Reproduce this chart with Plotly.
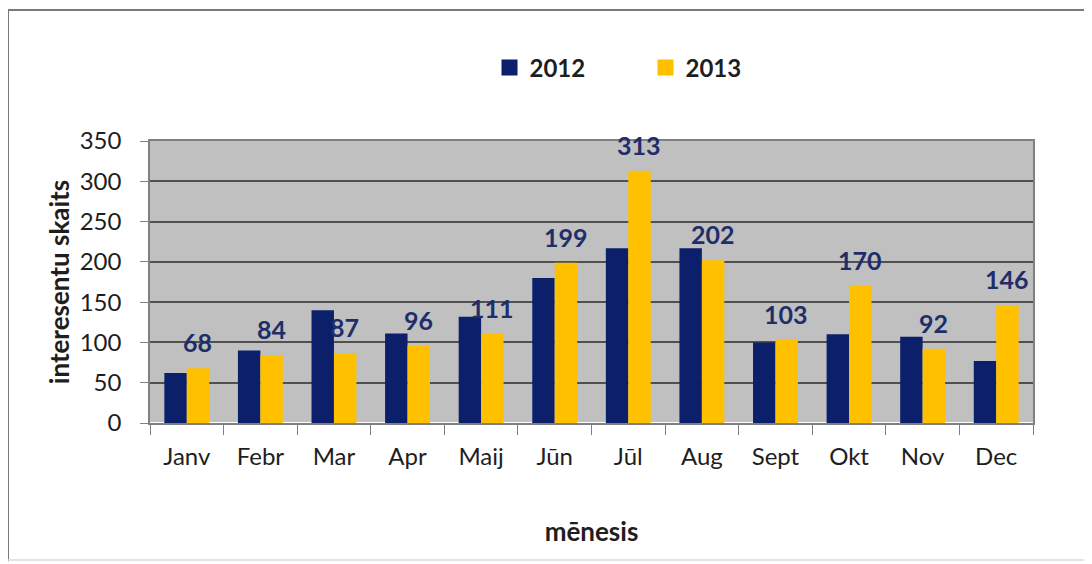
import plotly.graph_objects as go

months = ["Janv", "Febr", "Mar", "Apr", "Maij", "Jūn", "Jūl", "Aug", "Sept", "Okt", "Nov", "Dec"]
v2012 = [62, 90, 140, 111, 132, 180, 217, 217, 100, 110, 107, 77]
v2013 = [68, 84, 87, 96, 111, 199, 313, 202, 103, 170, 92, 146]
y_ticks = [0, 50, 100, 150, 200, 250, 300, 350]
series_names = ["2012", "2013"]

NAVY = "#0B1F6B"
GOLD = "#FFC000"
LABEL = "#1F2D6B"
TXT = "#1E1E1E"
FONT = "Lato, Open Sans, sans-serif"

fig = go.Figure()
for name, vals, col in zip(series_names, [v2012, v2013], [NAVY, GOLD]):
    fig.add_trace(go.Bar(name=name, x=months, y=vals, marker=dict(color=col, line_width=0),
                         showlegend=False))
# legend entries with larger square swatches
for name, col in zip(series_names, [NAVY, GOLD]):
    fig.add_trace(go.Scatter(name=f"<b>{name}</b>", x=[None], y=[None], mode="markers",
                             marker=dict(symbol="square", size=16, color=col), showlegend=True))

for m, v in zip(months, v2013):
    fig.add_annotation(x=m, y=v, xref="x", yref="y", text=f"<b>{v}</b>", showarrow=False,
                       xshift=11, yshift=26, font=dict(family=FONT, size=25, color=LABEL))

fig.update_layout(
    width=1084, height=556,
    margin=dict(l=142, r=59, t=133, b=141),
    paper_bgcolor="white", plot_bgcolor="#C0C0C0",
    barmode="group", bargap=0.39, bargroupgap=0.0,
    font=dict(family=FONT, color=TXT),
    showlegend=True,
    legend=dict(orientation="h", x=0.3845, xanchor="left", y=1.259, yanchor="middle",
                font=dict(family=FONT, size=24, color=TXT), itemwidth=30,
                traceorder="normal", entrywidth=111, bgcolor="rgba(0,0,0,0)"),
    shapes=[
        dict(type="line", xref="paper", yref="paper", x0=-0.1608, x1=1.0657, y0=1.4645, y1=1.4645,
             line=dict(color="#7A7A7A", width=2)),
        dict(type="line", xref="paper", yref="paper", x0=-0.1608, x1=-0.1608, y0=-0.49, y1=1.4645,
             line=dict(color="#7A7A7A", width=2)),
        dict(type="line", xref="paper", yref="paper", x0=-0.1608, x1=1.0657, y0=-0.486, y1=-0.486,
             line=dict(color="#DADADA", width=1.5)),
        dict(type="line", xref="paper", yref="paper", x0=1.0657, x1=1.0657, y0=-0.486, y1=1.4645,
             line=dict(color="#DADADA", width=1.5)),
    ],
)

fig.update_xaxes(
    showline=True, linecolor="#808080", linewidth=1.5, mirror=True,
    ticks="outside", tickson="boundaries", ticklen=10, tickcolor="#808080",
    ticklabelstandoff=11,
    tickfont=dict(family=FONT, size=24, color=TXT),
    title=dict(text="<b>mēnesis</b>", font=dict(family=FONT, size=26, color=TXT), standoff=54),
)
fig.update_yaxes(
    range=[0, 350], tickvals=y_ticks, showline=True, linecolor="#808080", linewidth=1.5, mirror=True,
    ticks="outside", ticklen=8, tickcolor="#808080",
    ticklabelstandoff=14,
    gridcolor="#505050", gridwidth=2,
    tickfont=dict(family=FONT, size=24, color=TXT),
    title=dict(text="<b>interesentu skaits</b>", font=dict(family=FONT, size=26, color=TXT), standoff=3),
)

fig.write_html("out.html")
